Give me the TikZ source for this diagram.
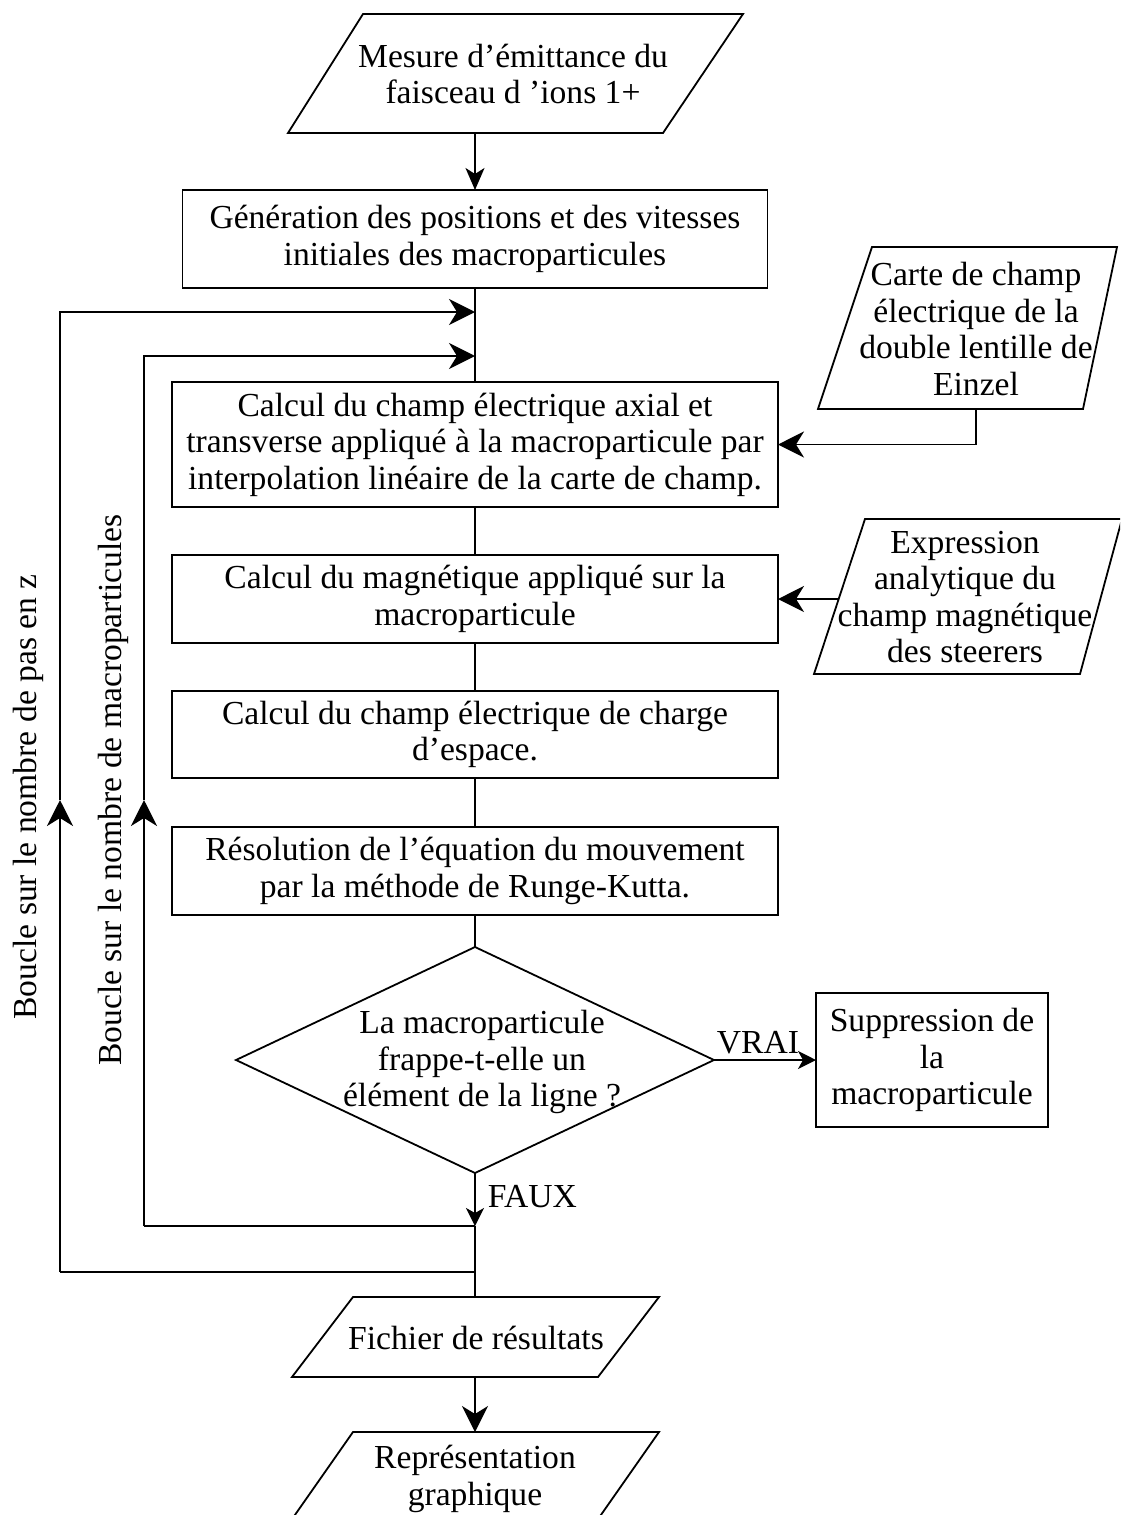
\documentclass[tikz,border=0pt]{standalone}
\usepackage{fontspec}
\setmainfont{Liberation Serif}
\usetikzlibrary{arrows.meta,shapes.geometric}
\begin{document}
\begin{tikzpicture}[x=1pt,y=-1pt, line width=1.8pt,
  txt/.style={font=\fontsize{33.6}{36.5}\selectfont, align=center, inner sep=0pt},
  box/.style={draw, rectangle, inner sep=0pt, outer sep=0pt, txt},
  big/.style={-{Stealth[length=26pt,width=26pt,inset=8pt]}},
  med/.style={-{Stealth[length=22pt,width=19pt,inset=6pt]}},
  small/.style={-{Stealth[length=18pt,width=18pt,inset=5pt]}}]
\clip (0,0) rectangle (1120,1515);
\fill[white] (0,0) rectangle (1120,1515);

% parallelogram shapes
\draw (363,14) -- (743,14) -- (663,133) -- (288,133) -- cycle;
\node[txt] (p1) at (513,74) {Mesure d’émittance du\\faisceau d ’ions 1+};
\coordinate (p1s) at (475,133);

\draw (872,247) -- (1117,247) -- (1083,409) -- (818,409) -- cycle;
\node[txt] (p2) at (976,329) {Carte de champ\\électrique de la\\double lentille de\\Einzel};
\coordinate (p2s) at (976,409);

\draw (865,519) -- (1122,519) -- (1080,674) -- (814,674) -- cycle;
\node[txt] (p3) at (965,597) {Expression\\analytique du\\champ magnétique\\des steerers};
\coordinate (p3w) at (839,599);

\draw (353,1297) -- (659,1297) -- (598,1377) -- (292,1377) -- cycle;
\node[txt] (p4) at (476,1338) {Fichier de résultats};
\coordinate (p4n) at (475,1297);
\coordinate (p4s) at (475,1377);

\draw (353,1432) -- (659,1432) -- (589,1532) -- (283,1532) -- cycle;
\node[txt] (p5) at (475,1479) {Représentation\\graphique};
\coordinate (p5n) at (475,1432);

% process boxes
\node[box, minimum width=585, minimum height=98] (b2) at (475,239)
  {Génération des positions et des vitesses\\initiales des macroparticules};
\node[box, minimum width=606, minimum height=125] (b3) at (475,444.5)
  {Calcul du champ électrique axial et\\transverse appliqué à la macroparticule par\\interpolation linéaire de la carte de champ.};
\node[box, minimum width=606, minimum height=88] (b4) at (475,599)
  {Calcul du magnétique appliqué sur la\\macroparticule};
\node[box, minimum width=606, minimum height=87] (b5) at (475,734.5)
  {Calcul du champ électrique de charge\\d’espace.};
\node[box, minimum width=606, minimum height=88] (b6) at (475,871)
  {Résolution de l’équation du mouvement\\par la méthode de Runge-Kutta.};
\node[draw, diamond, minimum width=478, minimum height=226, inner sep=0pt, outer sep=0pt] (d) at (475,1060) {};
\node[txt] (dt) at (482,1062) {La macroparticule\\frappe-t-elle un\\élément de la ligne ?};
\node[box, minimum width=232, minimum height=134] (sup) at (932,1060)
  {Suppression de\\la\\macroparticule};

% labels
\node[txt, anchor=base west] (vrai) at (716,1053) {VRAI};
\node[txt, anchor=base west] (faux) at (487,1207) {FAUX};
\node[txt, rotate=90] (l1) at (28,797) {Boucle sur le nombre de pas en z};
\node[txt, rotate=90] (l2) at (113,790) {Boucle sur le nombre de macroparticules};

% junction coordinates
\coordinate (m1) at (475,312);
\coordinate (m2) at (475,356);
\coordinate (j2) at (475,1226);
\coordinate (j1) at (475,1272);
\coordinate (o1) at (60,1272);
\coordinate (oa) at (60,800);
\coordinate (o2) at (60,312);
\coordinate (i1) at (144,1226);
\coordinate (ia) at (144,800);
\coordinate (i2) at (144,356);
\coordinate (c2) at (976,444.5);

% connectors
\draw[med] (p1s) -- (b2.south |- b2.north);
\draw (b2.south) -- (b3.north);
\draw (b3.south) -- (b4.north);
\draw (b4.south) -- (b5.north);
\draw (b5.south) -- (b6.north);
\draw (b6.south) -- (d.north);
\draw[small] (d.south) -- (j2);
\draw (j2) -- (p4n);
\draw[big] (p4s) -- (p5n);
\draw[big] (p2s) -- (c2) -- (b3.east);
\draw[big] (p3w) -- (b4.east);
\draw[small] (d.east) -- (sup.west);

\draw[big] (o1) -- (oa);
\draw (j1) -- (o1);
\draw[big] (oa) -- (o2) -- (m1);
\draw[big] (i1) -- (ia);
\draw (j2) -- (i1);
\draw[big] (ia) -- (i2) -- (m2);
\end{tikzpicture}
\end{document}
